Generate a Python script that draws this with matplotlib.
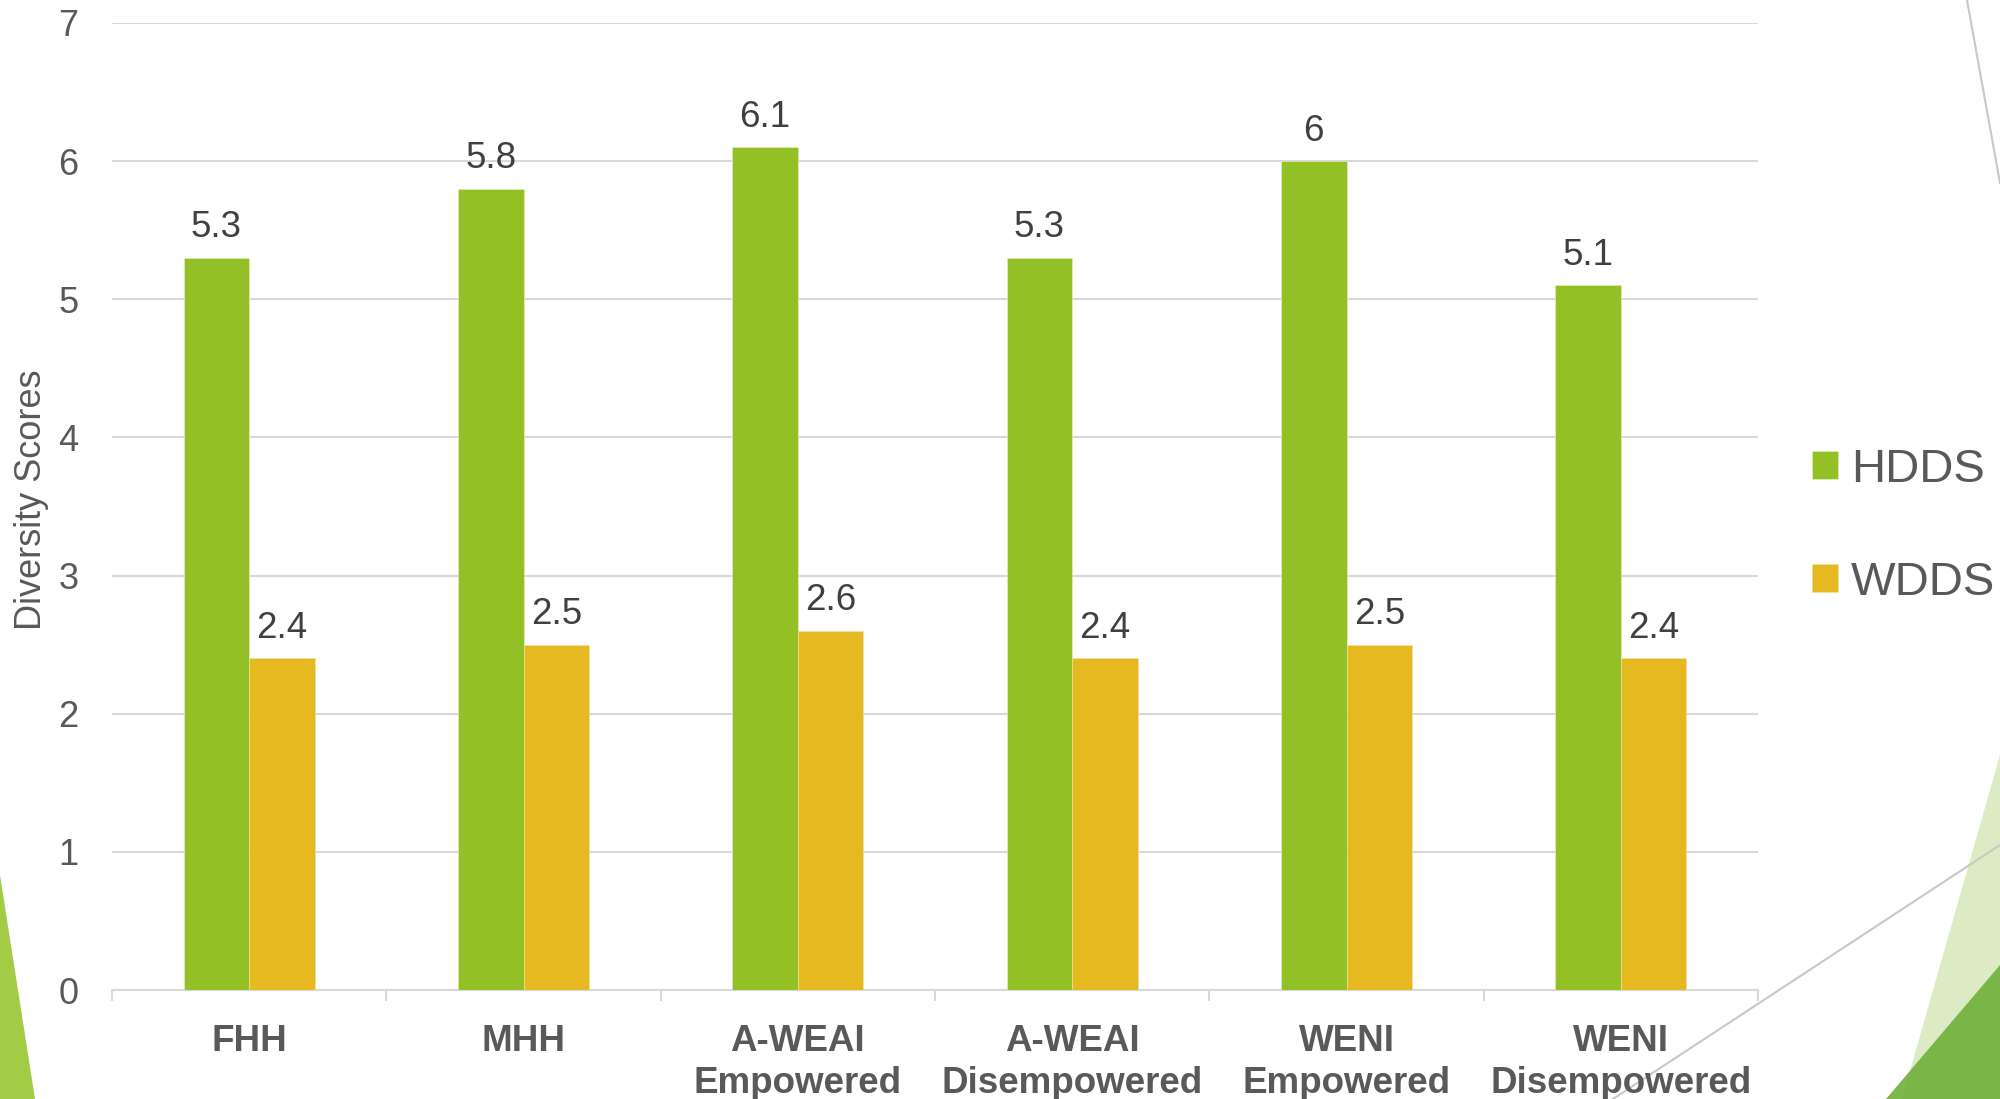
import numpy as np
from matplotlib import pyplot as plt
from matplotlib.patches import Polygon
from matplotlib.lines import Line2D

# datos
categorias = ["FHH", "MHH", "A-WEAI\nEmpowered", "A-WEAI\nDisempowered",
              "WENI\nEmpowered", "WENI\nDisempowered"]
hdds = [5.3, 5.8, 6.1, 5.3, 6, 5.1]
wdds = [2.4, 2.5, 2.6, 2.4, 2.5, 2.4]
series = ["HDDS", "WDDS"]
yticks = [0, 1, 2, 3, 4, 5, 6, 7]

verde = "#93C125"
amarillo = "#E5B91F"
gris_txt = "#595959"
gris_lin = "#D9D9D9"

plt.rcParams['font.family'] = ['Liberation Sans', 'DejaVu Sans']

W, H = 2000, 1099
fig = plt.figure(figsize=[20, 10.99], dpi=100)

# decoracion de fondo (coordenadas en pixeles)
def px(pts):
    return [(x / W, 1 - y / H) for x, y in pts]

fig.add_artist(Polygon(px([(0, 875), (35, 1099), (0, 1099)]), closed=True,
                       facecolor="#A2CC45", edgecolor="none",
                       transform=fig.transFigure, zorder=-2))
fig.add_artist(Polygon(px([(2000, 755), (1902, 1099), (2000, 1099)]), closed=True,
                       facecolor="#DDEBC4", edgecolor="none",
                       transform=fig.transFigure, zorder=-2))
fig.add_artist(Polygon(px([(2000, 965), (1886, 1099), (2000, 1099)]), closed=True,
                       facecolor="#6FB03A", alpha=0.9, edgecolor="none",
                       transform=fig.transFigure, zorder=-2))
for (x1, y1), (x2, y2) in [((1613, 1099), (2000, 845)), ((1967, 0), (2000, 183))]:
    (a, b), (c, d) = px([(x1, y1), (x2, y2)])
    fig.add_artist(Line2D([a, c], [b, d], color="#C8C8C8", lw=1.5,
                          transform=fig.transFigure, zorder=-1))

ax = fig.add_axes([112 / W, 1 - 990 / H, (1758 - 112) / W, (990 - 23) / H])
ax.patch.set_alpha(0)

x = np.arange(len(categorias))
ancho = 0.239
b1 = ax.bar(x - ancho / 2, hdds, ancho, color=verde, edgecolor="#E8F0D0",
            linewidth=0.4, label=series[0], zorder=3)
b2 = ax.bar(x + ancho / 2, wdds, ancho, color=amarillo, edgecolor="#F2E2A8",
            linewidth=0.4, label=series[1], zorder=3)

# etiquetas de datos
for barras in (b1, b2):
    for r in barras:
        v = r.get_height()
        ax.annotate("{:g}".format(v), (r.get_x() + r.get_width() / 2, v),
                    xytext=(0, 9), textcoords="offset points",
                    ha="center", va="bottom", fontsize=26.5, color="#404040")

ax.set_xlim(-0.5, len(categorias) - 0.5)
ax.set_ylim(0, 7)
ax.set_yticks(yticks)
ax.tick_params(axis="y", length=0, pad=24, labelsize=26, labelcolor=gris_txt)
ax.yaxis.grid(True, color=gris_lin, lw=1.5, zorder=0)
ax.set_axisbelow(True)

ax.set_xticks(np.arange(-0.5, len(categorias)), minor=False)
ax.set_xticklabels([])
ax.set_xticks(x, minor=True)
ax.set_xticklabels(categorias, minor=True, fontsize=26.5, fontweight="bold",
                   color=gris_txt, linespacing=1.25)
ax.tick_params(axis="x", which="major", length=8, width=1.5, color=gris_lin)
ax.tick_params(axis="x", which="minor", length=0, pad=24.5)

for s in ["top", "left", "right"]:
    ax.spines[s].set_visible(False)
ax.spines["bottom"].set_color(gris_lin)
ax.spines["bottom"].set_linewidth(1.5)

fig.text(32 / W, 1 - 500 / H, "Diversity Scores", rotation=90, ha="center",
         va="center", fontsize=26, color=gris_txt)

fig.legend(handles=[b1, b2], labels=series, loc="center left",
           bbox_to_anchor=(1812 / W, 1 - 526.5 / H), frameon=False,
           fontsize=34, labelcolor=gris_txt, handlelength=0.54,
           handleheight=0.54, handletextpad=0.28, labelspacing=1.46,
           borderpad=0, borderaxespad=0)

plt.savefig("out.png", dpi=100)
